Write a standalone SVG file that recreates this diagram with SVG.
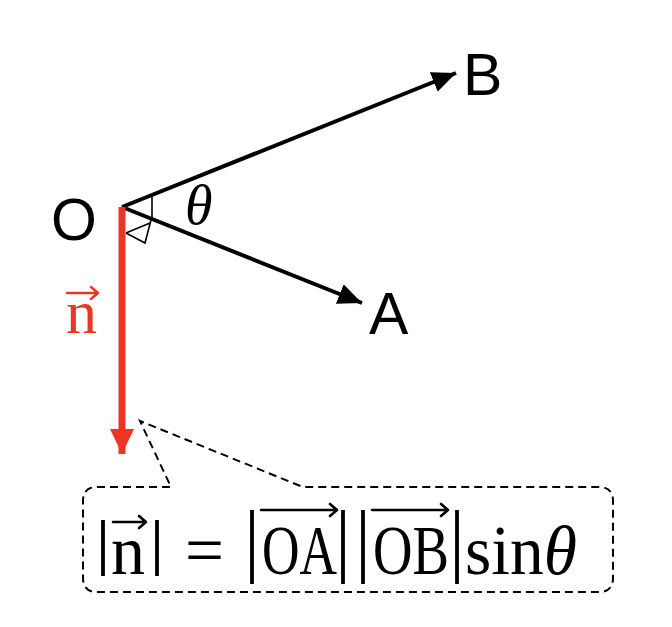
<svg xmlns="http://www.w3.org/2000/svg" width="672" height="627" viewBox="0 0 672 627">
<defs>
<style>
.lbl{font-family:"Liberation Sans",Arial,sans-serif;font-size:59px;fill:#000}
.ser{font-family:"Liberation Serif","Times New Roman",serif;fill:#000}
.ital{font-style:italic}
.bar{stroke:#000;stroke-width:3.8;fill:none}
.acc{stroke:#000;stroke-width:2.6;fill:none;stroke-linecap:round;stroke-linejoin:round}
.vec{stroke:#000;stroke-width:4;fill:none}
</style>
<marker id="ah" markerUnits="userSpaceOnUse" markerWidth="28" markerHeight="24" refX="24" refY="10.5" orient="auto">
<path d="M0,0 L24,10.5 L0,21 Z" fill="#000"/>
</marker>
<marker id="ahr" markerUnits="userSpaceOnUse" markerWidth="28" markerHeight="28" refX="25" refY="12" orient="auto">
<path d="M0,0 L25,12 L0,24 Z" fill="#EE3524"/>
</marker>
</defs>
<rect width="672" height="627" fill="#fff"/>
<g id="connectors">
<line class="vec" x1="122" y1="207" x2="456" y2="73" marker-end="url(#ah)"/>
<line class="vec" x1="122" y1="207" x2="362" y2="303" marker-end="url(#ah)"/>
<line x1="122" y1="207" x2="122" y2="454" stroke="#EE3524" stroke-width="7" marker-end="url(#ahr)"/>
<path d="M152,197 L152,220 M126,233 L150,223 M126,233 L145,243 L151,220" stroke="#000" stroke-width="1.6" fill="none"/>
</g>
<g id="node-O"><text class="lbl" x="51" y="240">O</text></g>
<g id="node-B"><text class="lbl" x="463" y="95">B</text></g>
<g id="node-A"><text class="lbl" x="369" y="334">A</text></g>
<g id="theta"><text class="ser ital" x="185" y="224" font-size="56">θ</text></g>
<g id="n-label">
<text class="ser" x="66" y="333" font-size="62" style="fill:#EE3524">n</text>
<path d="M67,293 L98,293 M91,287 L98,293 L91,299" stroke="#EE3524" stroke-width="2.5" fill="none" stroke-linecap="round" stroke-linejoin="round"/>
</g>
<g id="callout">
<path d="M97,487 L171,487 L140,421 L303,487 L599,487 Q613,487 613,501 L613,578 Q613,592 599,592 L97,592 Q83,592 83,578 L83,501 Q83,487 97,487 Z" fill="none" stroke="#000" stroke-width="2" stroke-dasharray="8,5"/>
<line class="bar" x1="103" y1="520" x2="103" y2="576"/>
<text class="ser" x="111" y="574" font-size="70" textLength="34" lengthAdjust="spacingAndGlyphs">n</text>
<path class="acc" d="M113,522 L146,522 M139,516 L146,522 L139,528"/>
<line class="bar" x1="157" y1="520" x2="157" y2="576"/>
<text class="ser" x="185" y="574" font-size="70" textLength="39" lengthAdjust="spacingAndGlyphs">=</text>
<line class="bar" x1="252" y1="510" x2="252" y2="584"/>
<path class="acc" d="M261,510 L337,510 M330,504 L337,510 L330,516"/>
<text class="ser" x="262" y="574" font-size="70" textLength="75" lengthAdjust="spacingAndGlyphs">OA</text>
<line class="bar" x1="343" y1="510" x2="343" y2="584"/>
<line class="bar" x1="363" y1="510" x2="363" y2="584"/>
<path class="acc" d="M372,510 L448,510 M441,504 L448,510 L441,516"/>
<text class="ser" x="373" y="574" font-size="70" textLength="76" lengthAdjust="spacingAndGlyphs">OB</text>
<line class="bar" x1="457" y1="510" x2="457" y2="584"/>
<text class="ser" x="465" y="574" font-size="70" textLength="112" lengthAdjust="spacingAndGlyphs">sin<tspan class="ital">θ</tspan></text>
</g>
</svg>
